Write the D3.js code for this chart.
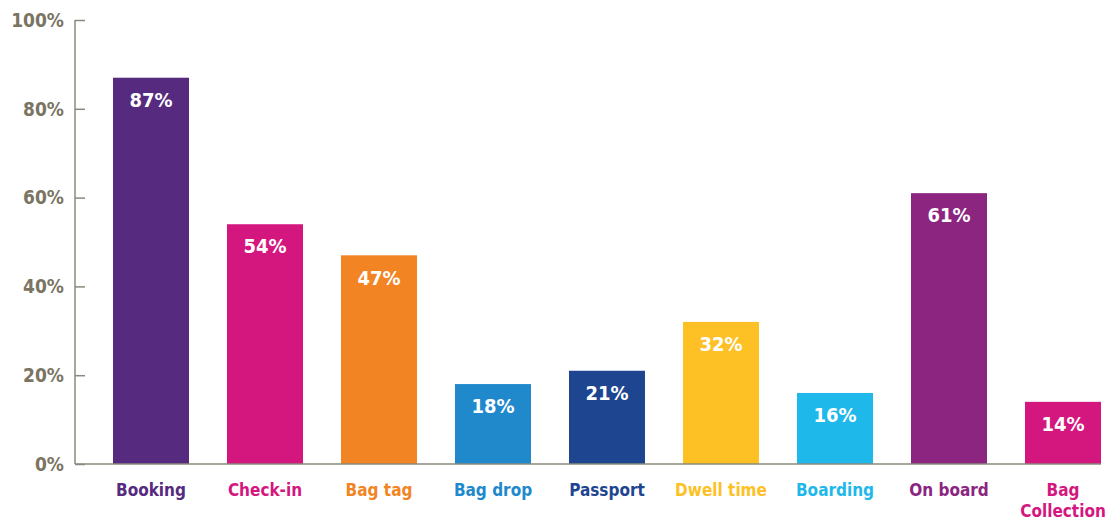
<!DOCTYPE html>
<html>
<head>
<meta charset="utf-8">
<script src="https://cdn.jsdelivr.net/npm/d3@7"></script>
<style>
  body { margin: 0; background: #fff; }
  text { font-family: "DejaVu Sans Condensed", "Liberation Sans Narrow", sans-serif; font-weight: bold; }
</style>
</head>
<body>
<div id="chart"></div>
<script>
/* Data */
const categories = ["Booking", "Check-in", "Bag tag", "Bag drop", "Passport", "Dwell time", "Boarding", "On board", "Bag Collection"];
const values = [87, 54, 47, 18, 21, 32, 16, 61, 14];
const colors = ["#562a7e", "#d4177f", "#f28423", "#2089cc", "#1e4590", "#fdc125", "#1fb8ea", "#8b2580", "#d4177f"];
const yTicks = [0, 20, 40, 60, 80, 100];

const W = 1114, H = 521;
const svg = d3.select("#chart").append("svg")
    .attr("width", W)
    .attr("height", H);

/* Scales */
const x = d3.scaleBand().domain(categories).range([75, 1139])
    .paddingInner(1 / 3).paddingOuter(1 / 3);
const y = d3.scaleLinear().domain([0, 100]).range([464, 20]);

const axisColor = "#8a8a7c";

/* Y axis: ticks pointing inward */
const yAxis = svg.append("g")
    .attr("transform", "translate(75,0)")
    .call(d3.axisRight(y).tickValues(yTicks).tickSize(10).tickFormat(""));
yAxis.select(".domain").remove();
yAxis.selectAll("line").attr("stroke", axisColor).attr("stroke-width", 1.5);

svg.append("line")
    .attr("x1", 75).attr("x2", 75)
    .attr("y1", y(100)).attr("y2", y(0))
    .attr("stroke", axisColor).attr("stroke-width", 1.5);

svg.selectAll(".ylab")
    .data(yTicks)
    .join("text")
    .attr("x", 64)
    .attr("y", d => y(d))
    .attr("dy", "0.36em")
    .attr("text-anchor", "end")
    .attr("fill", "#7a7462")
    .style("font-size", "19px")
    .text(d => d + "%");

/* Bars */
svg.selectAll(".bar")
    .data(values)
    .join("rect")
    .attr("x", (d, i) => x(categories[i]))
    .attr("y", d => y(d))
    .attr("width", x.bandwidth())
    .attr("height", d => y(0) - y(d))
    .attr("fill", (d, i) => colors[i]);

/* Baseline */
svg.append("line")
    .attr("x1", 75)
    .attr("x2", x(categories[categories.length - 1]) + x.bandwidth())
    .attr("y1", y(0)).attr("y2", y(0))
    .attr("stroke", axisColor).attr("stroke-width", 1.5);

/* Value labels */
svg.selectAll(".val")
    .data(values)
    .join("text")
    .attr("x", (d, i) => x(categories[i]) + x.bandwidth() / 2)
    .attr("y", d => y(d) + 22)
    .attr("dy", "0.36em")
    .attr("text-anchor", "middle")
    .attr("fill", "#fff")
    .style("font-size", "20px")
    .text(d => d + "%");

/* Category labels */
svg.selectAll(".cat")
    .data(categories)
    .join("text")
    .attr("x", d => x(d) + x.bandwidth() / 2)
    .attr("y", 490)
    .attr("text-anchor", "middle")
    .attr("fill", (d, i) => colors[i])
    .style("font-size", "17px")
    .each(function (d) {
        const parts = d === "Bag Collection" ? ["Bag", "Collection"] : [d];
        d3.select(this).selectAll("tspan")
            .data(parts)
            .join("tspan")
            .attr("x", x(d) + x.bandwidth() / 2)
            .attr("dy", (p, j) => j === 0 ? "0.36em" : "1.2em")
            .text(p => p);
    });
</script>
</body>
</html>
